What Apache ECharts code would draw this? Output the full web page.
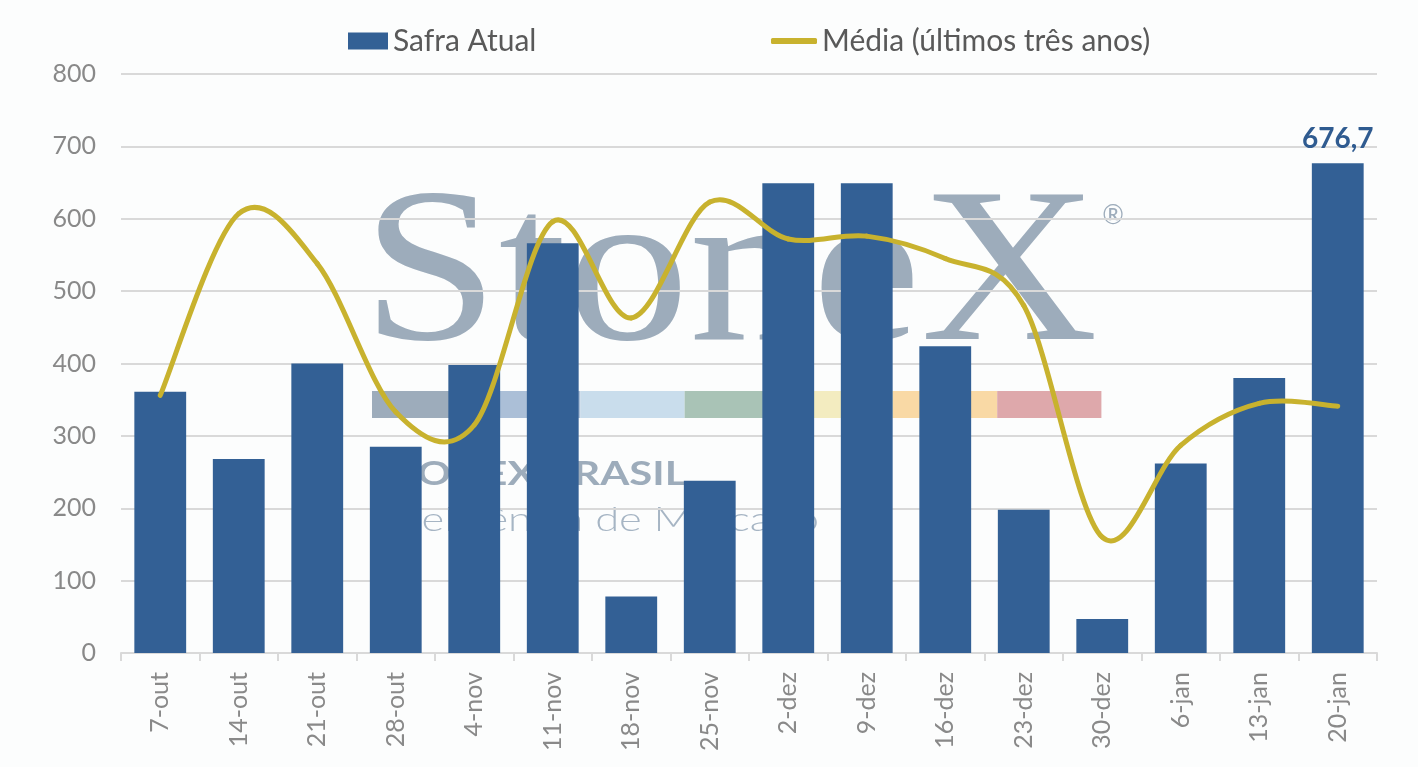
<!DOCTYPE html>
<html>
<head>
<meta charset="utf-8">
<script src="https://cdn.jsdelivr.net/npm/echarts@6/dist/echarts.min.js"></script>
<style>
  html, body { margin: 0; padding: 0; background: #fcfdfd; }
  #chart { width: 1418px; height: 767px; }
</style>
</head>
<body>
<div id="chart"></div>
<script>
// semanas
var categorias = ['7-out', '14-out', '21-out', '28-out', '4-nov', '11-nov', '18-nov', '25-nov',
    '2-dez', '9-dez', '16-dez', '23-dez', '30-dez', '6-jan', '13-jan', '20-jan'];
var safraAtual = [361, 268, 400, 285, 398, 566, 78, 238, 649, 649, 424, 198, 47, 262, 380, 676.7];
var mediaTresAnos = [356, 607, 538, 333, 315, 596, 463, 623, 572, 576, 545, 480, 160, 287, 345, 341];
var yTicks = [0, 100, 200, 300, 400, 500, 600, 700, 800];

var fonte = 'Lato';
var azul = '#336095';
var dourado = '#c8b22e';
var cinzaLogo = '#9dacbb';

// faixas coloridas do logo (marca d'agua)
var faixas = ['#9dacbb', '#abbfd7', '#c9ddec', '#a9c3b6', '#f3ecc0', '#f9d9a5', '#dea8ab'];

var chart = echarts.init(document.getElementById('chart'));

var marcaDagua = [
    {
        type: 'text', x: 362, y: 281, scaleX: 1.115, z: -10,
        style: { text: 'StoneX', font: '220px "Liberation Serif"', fill: cinzaLogo, verticalAlign: 'middle' }
    },
    {
        type: 'text', x: 1113, y: 216, z: -10,
        style: { text: '®', font: '26px ' + fonte, fill: cinzaLogo, align: 'center', verticalAlign: 'middle' }
    },
    {
        type: 'text', x: 370, y: 474, scaleX: 1.27, z: -10,
        style: { text: 'STONEX BRASIL', font: 'bold 33px ' + fonte, fill: cinzaLogo, verticalAlign: 'middle' }
    },
    {
        type: 'text', x: 372, y: 520, scaleX: 1.28, z: -10,
        style: { text: 'Inteligência de Mercado', font: '300 34px ' + fonte, fill: '#a6b5c4', verticalAlign: 'middle' }
    }
];
faixas.forEach(function (cor, i) {
    marcaDagua.push({
        type: 'rect', z: -10,
        shape: { x: 372 + i * 104.2, y: 391, width: 104.2, height: 27 },
        style: { fill: cor }
    });
});

// curva suavizada estilo Excel (Catmull-Rom), pontos pelas escalas do grafico
function trechoSuave(params, api) {
    var i = params.dataIndex;
    var n = mediaTresAnos.length;
    if (i >= n - 1) return null;
    var p = function (k) {
        k = Math.max(0, Math.min(n - 1, k));
        return api.coord([k, mediaTresAnos[k]]);
    };
    var p0 = p(i - 1), p1 = p(i), p2 = p(i + 1), p3 = p(i + 2);
    return {
        type: 'bezierCurve',
        shape: {
            x1: p1[0], y1: p1[1],
            cpx1: p1[0] + (p2[0] - p0[0]) / 6, cpy1: p1[1] + (p2[1] - p0[1]) / 6,
            cpx2: p2[0] - (p3[0] - p1[0]) / 6, cpy2: p2[1] - (p3[1] - p1[1]) / 6,
            x2: p2[0], y2: p2[1]
        },
        style: { stroke: dourado, lineWidth: 5, fill: 'none', lineCap: 'round' }
    };
}

var option = {
    backgroundColor: '#fcfdfd',
    animation: false,
    textStyle: { fontFamily: fonte },
    grid: { left: 121, right: 41, top: 74, bottom: 114 },
    legend: [
        {
            left: 348, top: 26, padding: 0,
            data: [{ name: 'Safra Atual', icon: 'rect' }],
            itemWidth: 40, itemHeight: 17,
            textStyle: { fontSize: 30, color: '#595959', fontFamily: fonte }
        },
        {
            left: 771, top: 26, padding: 0,
            data: [{ name: 'Média (últimos três anos)', icon: 'roundRect' }],
            itemWidth: 46, itemHeight: 6,
            textStyle: { fontSize: 30, color: '#595959', fontFamily: fonte }
        }
    ],
    graphic: marcaDagua,
    xAxis: {
        type: 'category',
        data: categorias,
        boundaryGap: true,
        axisLine: { lineStyle: { color: '#d9d9d9', width: 2 } },
        axisTick: { show: true, length: 8, lineStyle: { color: '#d9d9d9', width: 2 } },
        axisLabel: { rotate: 90, fontSize: 25, color: '#898989', margin: 19, fontFamily: fonte }
    },
    yAxis: {
        type: 'value',
        min: yTicks[0],
        max: yTicks[yTicks.length - 1],
        interval: 100,
        axisLine: { show: false },
        axisTick: { show: false },
        splitLine: { lineStyle: { color: '#d9d9d9', width: 2 } },
        axisLabel: { fontSize: 25, color: '#898989', margin: 25, fontFamily: fonte }
    },
    series: [
        {
            name: 'Safra Atual',
            type: 'bar',
            barWidth: '66%',
            itemStyle: { color: azul },
            data: safraAtual.map(function (v, i) {
                if (i !== safraAtual.length - 1) return v;
                return {
                    value: v,
                    label: {
                        show: true, position: 'top', distance: 10,
                        fontSize: 28, fontWeight: 'bold', color: '#2f5b90', fontFamily: fonte,
                        formatter: function (p) { return String(p.value).replace('.', ','); }
                    }
                };
            })
        },
        {
            name: 'Média (últimos três anos)',
            type: 'custom',
            renderItem: trechoSuave,
            itemStyle: { color: dourado },
            encode: { x: 0, y: 1 },
            z: 3,
            data: mediaTresAnos.map(function (v, i) { return [i, v]; })
        }
    ]
};

chart.setOption(option);
</script>
</body>
</html>
